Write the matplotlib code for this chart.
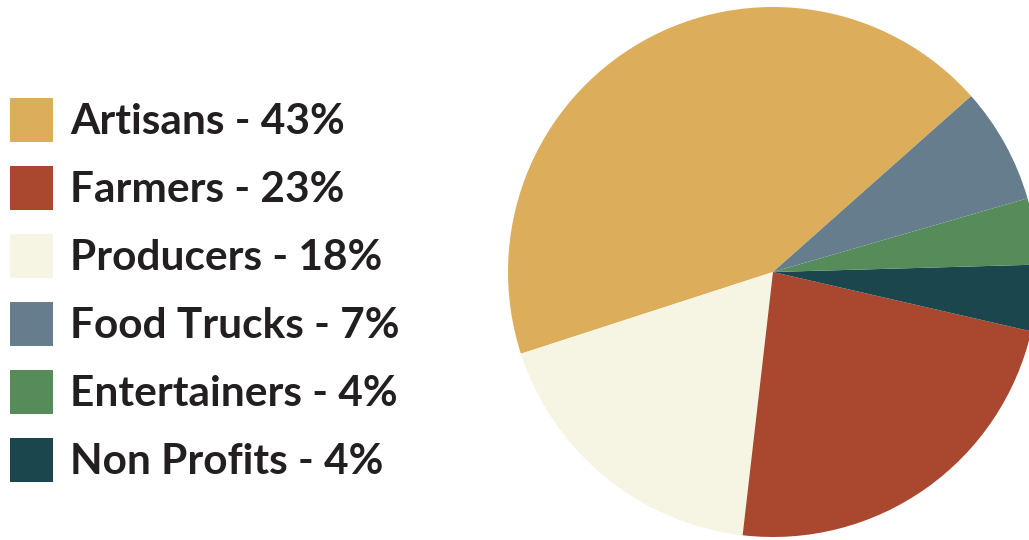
import matplotlib.pyplot as plt
from matplotlib.patches import Rectangle

# legend order
labels = ['Artisans', 'Farmers', 'Producers', 'Food Trucks', 'Entertainers', 'Non Profits']
values = [43, 23, 18, 7, 4, 4]
colors = ['#DCAE5C', '#A9472F', '#F6F4E3', '#657D8C', '#558C5A', '#1B464D']

# order the slices go round the pie (counterclockwise)
pie_order = ['Artisans', 'Producers', 'Farmers', 'Non Profits', 'Entertainers', 'Food Trucks']

W, H = 1029, 540
fig = plt.figure(figsize=(W / 100, H / 100), dpi=100)

# pie
ax = fig.add_axes([508 / W, 3 / H, 530 / W, 530 / H])
idx = [labels.index(n) for n in pie_order]
ax.pie([values[i] for i in idx], colors=[colors[i] for i in idx],
       startangle=41.6, counterclock=True, radius=1,
       wedgeprops=dict(linewidth=0))
ax.set_xlim(-1, 1)
ax.set_ylim(-1, 1)
ax.set_aspect('equal')
ax.axis('off')

# legend
lax = fig.add_axes([0, 0, 1, 1])
lax.set_xlim(0, W)
lax.set_ylim(H, 0)
lax.axis('off')
for k, (lab, val, col) in enumerate(zip(labels, values, colors)):
    y = 120 + k * 68
    lax.add_patch(Rectangle((10, y - 22), 43, 44, facecolor=col, edgecolor='none'))
    lax.text(70, y + 2, f'{lab} - {val}%', fontsize=30.5, fontfamily='Lato',
             fontweight='bold', color='#231F20', va='center', ha='left')

fig.savefig('out.png', dpi=100)
